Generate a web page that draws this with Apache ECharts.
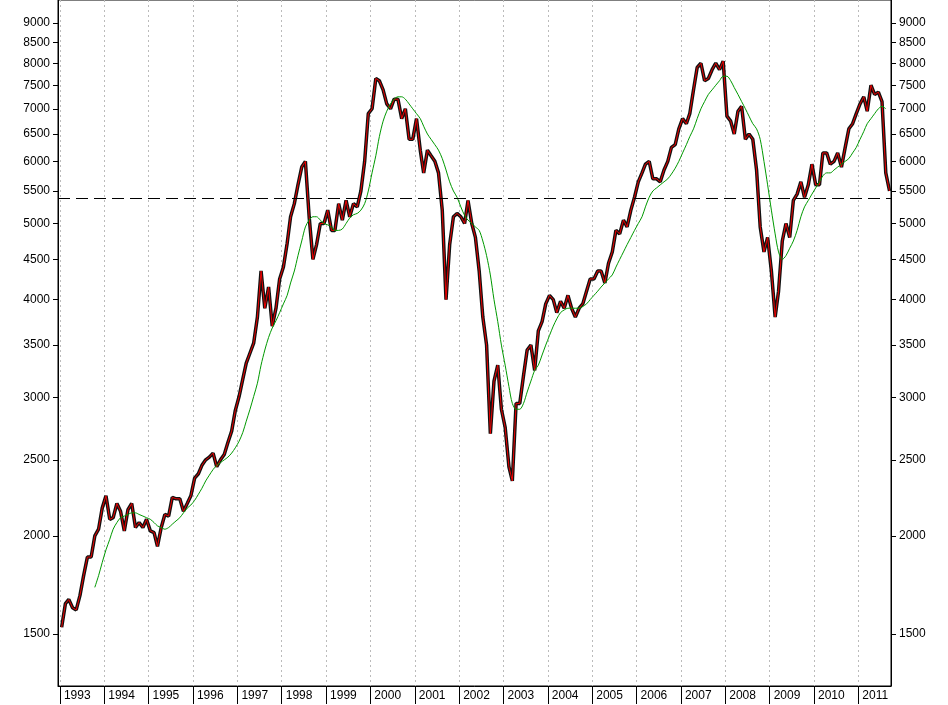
<!DOCTYPE html>
<html>
<head>
<meta charset="utf-8">
<script src="https://cdn.jsdelivr.net/npm/echarts@6/dist/echarts.min.js"></script>
<style>html,body{margin:0;padding:0;background:#fff}#chart{width:948px;height:705px}</style>
</head>
<body>
<div id="chart"></div>
<script>
// monthly closes, Jan 1993 .. Sep 2011
const closes = [
  1530, 1640, 1660, 1620, 1610, 1680, 1780, 1880, 1880, 2000, 2040, 2170,
  2250, 2100, 2110, 2200, 2150, 2030, 2160, 2200, 2050, 2080, 2050, 2100,
  2030, 2020, 1940, 2050, 2130, 2120, 2240, 2230, 2230, 2150, 2200, 2250,
  2370, 2400, 2460, 2500, 2520, 2550, 2450, 2500, 2540, 2630, 2720, 2890,
  3010, 3170, 3320, 3420, 3520, 3800, 4350, 3900, 4150, 3700, 3900, 4250,
  4400, 4720, 5100, 5300, 5600, 5900, 6000, 5100, 4500, 4700, 5000, 5000,
  5200, 4900, 4900, 5300, 5050, 5350, 5100, 5300, 5250, 5500, 6000, 6900,
  7000, 7650, 7600, 7400, 7100, 7000, 7200, 7200, 6800, 7000, 6400, 6400,
  6800, 6200, 5800, 6200, 6100, 6000, 5800, 5200, 4000, 4700, 5100, 5150,
  5100, 5000, 5350, 5000, 4800, 4350, 3800, 3500, 2700, 3150, 3300, 2900,
  2750, 2450, 2350, 2950, 2950, 3200, 3450, 3500, 3250, 3650, 3750, 3950,
  4050, 4000, 3850, 3980, 3900, 4050, 3900, 3800, 3900, 3950, 4100, 4250,
  4250, 4350, 4350, 4200, 4450, 4600, 4900, 4850, 5050, 4950, 5200, 5400,
  5650, 5800, 5950, 6000, 5700, 5700, 5650, 5850, 6000, 6250, 6300, 6600,
  6800, 6700, 6900, 7400, 7900, 8000, 7600, 7650, 7850, 8000, 7850, 8050,
  6850, 6750, 6500, 6950, 7050, 6400, 6500, 6400, 5850, 4950, 4600, 4800,
  4350, 3800, 4100, 4750, 5000, 4800, 5350, 5450, 5650, 5400, 5600, 5950,
  5600, 5600, 6150, 6150, 5950, 6000, 6150, 5900, 6250, 6600, 6700, 6900,
  7100, 7250, 6950, 7500, 7300, 7350, 7150, 5800, 5500
];
// 200-day average, Oct 1993 .. Aug 2011
const slowStart = [1993, 9];
const slow = [
  1720, 1780, 1850,
  1920, 1980, 2040, 2080, 2110, 2120, 2130, 2140, 2140, 2130, 2120, 2110,
  2100, 2080, 2060, 2050, 2040, 2050, 2070, 2090, 2110, 2140, 2170, 2190,
  2220, 2260, 2300, 2350, 2390, 2430, 2460, 2480, 2500, 2520, 2550, 2590,
  2640, 2710, 2800, 2900, 3010, 3130, 3300, 3450, 3580, 3680, 3760, 3850,
  3950, 4050, 4200, 4350, 4550, 4750, 4950, 5050, 5100, 5100, 5050, 5000,
  4980, 4950, 4900, 4900, 4920, 5000, 5080, 5130, 5150, 5200, 5300, 5500,
  5800, 6100, 6450, 6750, 6950, 7100, 7200, 7250, 7250, 7200, 7100, 7000,
  6900, 6800, 6650, 6500, 6400, 6300, 6200, 6050, 5850, 5650, 5500, 5400,
  5250, 5120, 5050, 5000, 4950, 4900, 4750, 4550, 4300, 4000, 3750, 3500,
  3300, 3100, 2950, 2900, 2900, 2950, 3050, 3150, 3250, 3300, 3400, 3500,
  3600, 3700, 3780, 3850, 3880, 3900, 3900, 3900, 3900, 3920, 3950, 4000,
  4050, 4100, 4150, 4200, 4250, 4300, 4400, 4500, 4600, 4700, 4800, 4900,
  5000, 5100, 5250, 5400, 5500, 5550, 5600, 5650, 5700, 5780, 5880, 6000,
  6150, 6300, 6450, 6600, 6800, 7000, 7150, 7300, 7400, 7500, 7600, 7700,
  7700, 7600, 7450, 7300, 7150, 7000, 6850, 6700, 6600, 6400, 6000, 5600,
  5200, 4850, 4600, 4500, 4550, 4650, 4750, 4900, 5100, 5250, 5350, 5450,
  5550, 5650, 5750, 5800, 5800, 5850, 5900, 5950, 6000, 6050, 6150, 6250,
  6400, 6550, 6700, 6800, 6900, 7000, 7050, 7000
];
const yTicks = [1500, 2000, 2500, 3000, 3500, 4000, 4500, 5000, 5500, 6000, 6500, 7000, 7500, 8000, 8500, 9000];
const years = [];
for (let y = 1993; y <= 2011; y++) years.push(y);
const refLevel = 5380;

const month = (y, m) => Date.UTC(y, m, 15);
const closeData = closes.map((v, i) => [month(1993, i), v]);
const slowData = slow.map((v, i) => [month(slowStart[0], slowStart[1] + i), v]);
const yearStarts = years.map(y => Date.UTC(y, 0, 1));

const font = { fontFamily: 'Liberation Sans', fontSize: 12, color: '#000' };
const yAxisBase = {
  type: 'log', min: 1288, max: 9630,
  axisLine: { show: true, lineStyle: { color: '#000' } },
  axisTick: { show: true, customValues: yTicks, length: 5, lineStyle: { color: '#000' } },
  axisLabel: Object.assign({ customValues: yTicks, margin: 8, formatter: v => String(Math.round(v)) }, font),
  splitLine: { show: false }
};

const chart = echarts.init(document.getElementById('chart'));
chart.setOption({
  animation: false,
  backgroundColor: '#fff',
  grid: { left: 58, right: 57, top: 0, bottom: 19, show: true, borderColor: '#000', borderWidth: 1 },
  xAxis: {
    type: 'value', min: Date.UTC(1992, 11, 16), max: Date.UTC(2011, 8, 27),
    axisLine: { show: true, lineStyle: { color: '#000' } },
    axisTick: { show: true, customValues: yearStarts, length: 18, lineStyle: { color: '#000' } },
    axisLabel: Object.assign({
      customValues: yearStarts, align: 'left', margin: 4, padding: [0, 0, 0, 4],
      formatter: v => String(new Date(v).getUTCFullYear())
    }, font),
    splitLine: { show: true, lineStyle: { color: '#bbb', type: [2, 3] } }
  },
  yAxis: [
    Object.assign({ position: 'left' }, yAxisBase),
    Object.assign({ position: 'right' }, yAxisBase)
  ],
  series: [
    {
      type: 'line', data: closeData, symbol: 'none',
      lineStyle: { color: '#111', width: 3.5 },
      markLine: {
        silent: true, symbol: 'none', label: { show: false },
        lineStyle: { color: '#000', type: [12, 6], width: 1 },
        data: [{ yAxis: refLevel }]
      }
    },
    { type: 'line', data: closeData, symbol: 'none', lineStyle: { color: '#e00', width: 1 } },
    { type: 'line', data: slowData, symbol: 'none', smooth: 0.3, lineStyle: { color: '#090', width: 1 } }
  ]
});
</script>
</body>
</html>
